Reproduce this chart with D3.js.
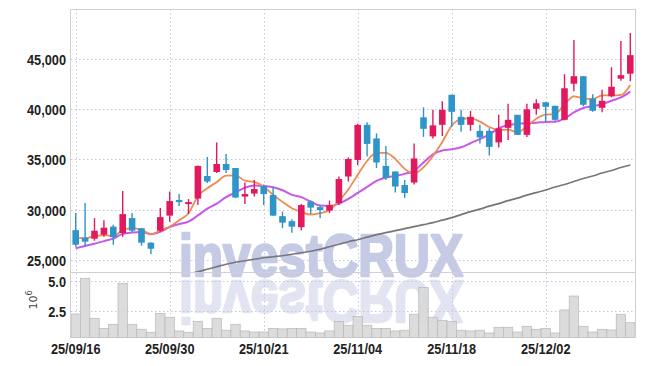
<!DOCTYPE html>
<html><head><meta charset="utf-8">
<script src="https://cdn.jsdelivr.net/npm/d3@7"></script>
<style>html,body{margin:0;padding:0;background:#fff;}svg{display:block;}</style>
</head><body>
<svg id="chart" width="645" height="366" xmlns:xlink="http://www.w3.org/1999/xlink"></svg>
<script>
const dates = ["25/09/16","25/09/17","25/09/18","25/09/19","25/09/22","25/09/23","25/09/24","25/09/25","25/09/26","25/09/29",
"25/09/30","25/10/01","25/10/02","25/10/10","25/10/13","25/10/14","25/10/15","25/10/16","25/10/17","25/10/20",
"25/10/21","25/10/22","25/10/23","25/10/24","25/10/27","25/10/28","25/10/29","25/10/30","25/10/31","25/11/03",
"25/11/04","25/11/05","25/11/06","25/11/07","25/11/10","25/11/11","25/11/12","25/11/13","25/11/14","25/11/17",
"25/11/18","25/11/19","25/11/20","25/11/21","25/11/24","25/11/25","25/11/26","25/11/27","25/11/28","25/12/01",
"25/12/02","25/12/03","25/12/04","25/12/05","25/12/08","25/12/09","25/12/10","25/12/11","25/12/12","25/12/15"];
const openP = [27950,27200,27100,27500,28300,27650,29150,28150,26700,27900,29400,30950,30550,31100,33350,33750,34550,34150,31300,31600,
32350,31450,29350,28850,28250,30800,30250,29900,30650,33300,34950,38450,37100,34350,33800,32450,32700,39200,37300,38450,
41450,39250,38450,37850,37850,36700,38150,39450,37450,40050,40700,40350,38950,42550,43300,41050,40150,41300,43050,43550];
const highP = [29650,30650,29150,28950,28500,31850,29650,28150,26750,30150,31800,31550,31050,34400,35250,36700,35550,34150,32700,32950,
32500,32250,29800,29050,30550,30900,30450,30900,33300,35200,38550,38700,37600,36350,33800,32950,36600,40200,39950,40800,
41450,39950,39850,38450,38100,39450,40550,39450,40550,41000,40700,40350,43500,46900,43300,41500,41950,44200,46800,47600];
const lowP = [26300,26300,26900,27300,26500,27300,27750,26400,25550,27800,28800,30350,29550,30450,32650,33650,33650,31150,30550,31300,
30450,29400,28150,27700,27950,29550,29150,29650,30450,32800,34450,35300,34150,32950,31700,31150,32500,37250,37100,37350,
38250,37750,37850,36600,35400,36200,36950,37450,37250,39450,38750,38850,38900,41800,40300,39750,39700,41200,42850,42800];
const closeP = [26500,26800,27900,28200,27250,29550,27900,26700,26100,29250,30850,30750,30750,34350,32800,34550,33950,31200,31550,32050,
31550,29400,28700,28300,30450,30200,29950,30450,33050,35050,38450,36550,34700,33150,32300,31650,35100,38050,38400,39950,
39750,38450,39250,37200,36250,38100,38950,37450,40000,40600,40250,38950,42100,43300,40450,39850,40850,42250,43400,45400];
const volume = [2.27,5.27,1.91,1.07,1.41,4.85,1.41,0.99,0.74,2.33,2.00,0.85,0.74,1.66,1.07,1.91,0.91,1.41,0.85,0.76,
0.76,1.07,1.02,1.07,1.07,0.76,0.68,0.85,1.63,1.33,2.05,1.33,1.07,1.07,0.85,0.91,2.25,4.51,2.00,1.74,
1.66,0.91,0.85,0.91,0.68,1.16,1.16,0.76,1.24,0.99,1.07,0.68,2.61,3.78,1.24,0.76,0.99,0.93,2.25,1.54];
const ma5 = [27150,27160,27340,27450,27380,27940,28150,27980,27550,27930,28310,28930,29640,31330,32130,32740,33380,33410,32880,32760,
32290,31470,30770,30140,29770,29500,29640,29970,30870,32010,33460,34850,35650,35650,35050,34060,33590,34210,35350,36750,
38360,39020,39110,38770,38240,37940,37970,37690,38310,39060,39470,39520,40480,41280,41100,41030,41380,41380,41430,42430];
const ma20 = [26150,26380,26600,26860,27110,27580,27710,27760,27550,27780,28250,28560,28800,29420,30090,30590,31250,31710,32180,32400,
32360,32230,31930,31470,31240,30800,30400,30370,30600,31070,31660,32260,32860,33210,33360,33560,33860,34700,35500,35900,
36020,36220,36620,37030,37490,38110,38440,38540,38610,38670,38740,38770,39070,39690,40130,40310,40510,40850,41180,41760];
const ma120 = [null,null,null,null,null,null,null,null,null,null,null,null,23600,23800,24050,24300,24550,24750,24900,25050,
25200,25300,25400,25550,25700,25850,26050,26300,26550,26800,27000,27250,27500,27700,27900,28100,28300,28500,28700,28950,
29200,29500,29800,30050,30350,30600,30900,31150,31450,31700,31950,32250,32500,32800,33100,33350,33650,33900,34200,34450];
const xTickLabels = ["25/09/16","25/09/30","25/10/21","25/11/04","25/11/18","25/12/02"];
const priceTicks = [25000,30000,35000,40000,45000];
const volTicks = [2.5,5.0];

const svg = d3.select("#chart");
const L = 71, R = 635, T = 9, MB = 272, VB = 337.5;
const UP = "#e3195f", DOWN = "#2f95c8";
const labelFont = "'Liberation Sans Narrow','Liberation Sans',Arial,sans-serif";

const x = d3.scaleBand().domain(dates).range([L, R]).padding(0);
const cx = d => x(d) + x.bandwidth() / 2;
const y = d3.scaleLinear().domain([23780, 50000]).range([MB, T]);
const yv = d3.scaleLinear().domain([0.30, 5.77]).range([VB, 272.3]);

const defs = svg.append("defs");
defs.append("clipPath").attr("id", "mainClip")
  .append("rect").attr("x", L).attr("y", T).attr("width", R - L).attr("height", MB - T);

// watermark (one text, mirrored copy via <use>)
const wm = svg.append("g").attr("font-family", "'Liberation Sans',Arial,sans-serif").attr("font-weight", "bold")
  .attr("font-size", 60).attr("stroke-linejoin", "round");
wm.append("text").attr("id", "wmText").attr("x", 179).attr("y", 275.5).attr("textLength", 284).attr("lengthAdjust", "spacingAndGlyphs")
  .attr("fill", "#c6cbe5").attr("stroke", "#c6cbe5").attr("stroke-width", 2.6).text("investCRUX");
wm.append("use").attr("href", "#wmText").attr("xlink:href", "#wmText")
  .attr("transform", "translate(0,556) scale(1,-1)").attr("opacity", 0.5);

// grid
const grid = svg.append("g").attr("stroke", "#c5c7dc").attr("stroke-width", 1).attr("stroke-dasharray", "1.5,2.5");
grid.selectAll("line.h").data(priceTicks).join("line")
  .attr("x1", L).attr("x2", R).attr("y1", d => Math.round(y(d)) + 0.5).attr("y2", d => Math.round(y(d)) + 0.5);
grid.selectAll("line.v").data(volTicks).join("line")
  .attr("x1", L).attr("x2", R).attr("y1", d => Math.round(yv(d)) + 0.5).attr("y2", d => Math.round(yv(d)) + 0.5);
grid.selectAll("line.x").data(xTickLabels).join("line")
  .attr("x1", d => Math.round(cx(d)) + 0.5).attr("x2", d => Math.round(cx(d)) + 0.5).attr("y1", T).attr("y2", VB);

// volume bars
svg.append("g").selectAll("rect").data(dates).join("rect")
  .attr("x", d => x(d)).attr("width", x.bandwidth())
  .attr("y", (d, i) => yv(volume[i])).attr("height", (d, i) => VB - yv(volume[i]))
  .attr("fill", "#d8d8d8").attr("fill-opacity", 0.9).attr("stroke", "#b8b8b8").attr("stroke-width", 0.7);

// frame
const frame = svg.append("g").attr("stroke", "#cfcfd6").attr("fill", "none");
frame.append("line").attr("x1", L - 0.5).attr("x2", L - 0.5).attr("y1", T).attr("y2", VB);
frame.append("line").attr("x1", R + 0.5).attr("x2", R + 0.5).attr("y1", T).attr("y2", VB);
frame.append("line").attr("x1", L).attr("x2", R).attr("y1", T + 0.5).attr("y2", T + 0.5);
frame.append("line").attr("x1", L).attr("x2", R).attr("y1", MB + 0.5).attr("y2", MB + 0.5);

// MA lines
const main = svg.append("g").attr("clip-path", "url(#mainClip)");
const line = d3.line().defined(d => d[1] != null).x(d => cx(d[0])).y(d => y(d[1])).curve(d3.curveMonotoneX);
function drawMA(arr, color, w) {
  main.append("path").datum(dates.map((d, i) => [d, arr[i]]))
    .attr("d", line).attr("fill", "none").attr("stroke", color).attr("stroke-width", w);
}
drawMA(ma120, "#777777", 1.7);
drawMA(ma20, "#c957ea", 2);
drawMA(ma5, "#ee8a52", 1.8);

// candles
const bw = x.bandwidth() * 0.7;
const cg = main.append("g");
dates.forEach((d, i) => {
  const up = closeP[i] >= openP[i];
  const col = up ? UP : DOWN;
  const xc = cx(d);
  cg.append("line").attr("x1", xc).attr("x2", xc).attr("y1", y(highP[i])).attr("y2", y(lowP[i]))
    .attr("stroke", col).attr("stroke-width", 1.4);
  const yt = y(Math.max(openP[i], closeP[i])), yb = y(Math.min(openP[i], closeP[i]));
  cg.append("rect").attr("x", xc - bw / 2).attr("width", bw).attr("y", yt).attr("height", Math.max(1.5, yb - yt))
    .attr("fill", col);
});

// axes labels
const yAxis = svg.append("g").attr("transform", `translate(${L - 5},0)`)
  .call(d3.axisLeft(y).tickValues(priceTicks).tickFormat(d3.format(",")).tickSize(0).tickPadding(0));
const vAxis = svg.append("g").attr("transform", `translate(${L - 5},0)`)
  .call(d3.axisLeft(yv).tickValues(volTicks).tickFormat(d3.format(".1f")).tickSize(0).tickPadding(0));
const xAxis = svg.append("g").attr("transform", `translate(0,${VB})`)
  .call(d3.axisBottom(x).tickValues(xTickLabels).tickSize(0));
[yAxis, vAxis, xAxis].forEach(a => {
  a.select(".domain").remove();
  a.selectAll("text").attr("font-family", labelFont).attr("font-weight", "bold").attr("font-size", 15).attr("fill", "#222");
});
yAxis.selectAll("text").attr("dy", "0.36em");
vAxis.selectAll("text").attr("dy", "0.36em");
xAxis.selectAll("text").attr("dy", "0").attr("y", 16.5);
[yAxis, vAxis, xAxis].forEach(a => a.selectAll("text").each(function () {
  const w = this.getComputedTextLength();
  d3.select(this).attr("textLength", w * 0.85).attr("lengthAdjust", "spacingAndGlyphs");
}));

// 10^6 label
const ul = svg.append("text").attr("transform", "translate(37,300) rotate(-90)").attr("text-anchor", "middle")
  .attr("font-family", "'DejaVu Sans',sans-serif").attr("font-size", 11).attr("fill", "#444");
ul.append("tspan").text("10");
ul.append("tspan").attr("dy", -5).attr("font-size", 8).text("6");
</script>
</body></html>
